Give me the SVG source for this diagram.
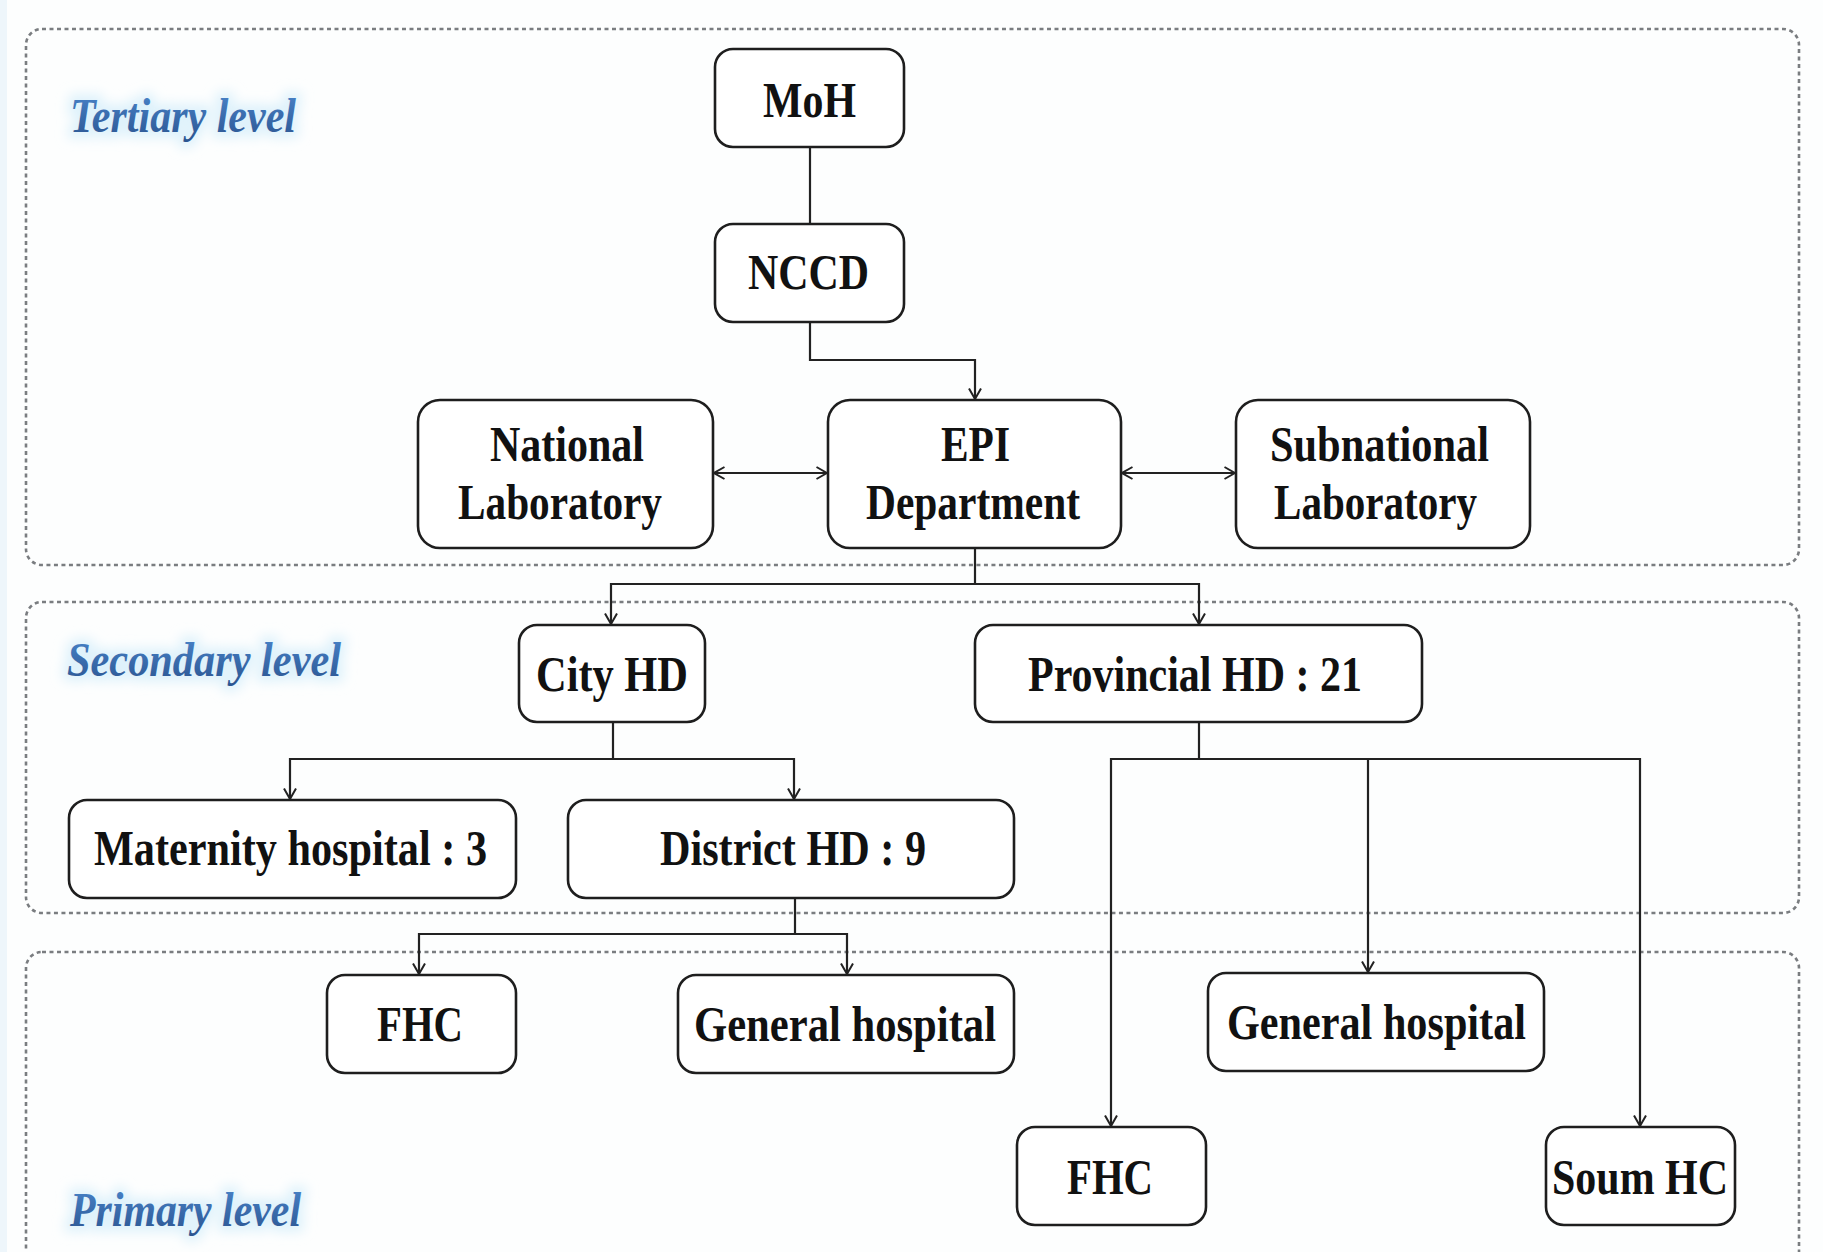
<svg xmlns="http://www.w3.org/2000/svg" width="1823" height="1252" viewBox="0 0 1823 1252">
  <defs>
    <style>
      .lvl { fill: none; stroke: #7a7d80; stroke-width: 2.6; stroke-dasharray: 4 3.5; }
      .node rect { fill: #ffffff; stroke: #1e1e1e; stroke-width: 2.6; }
      .node text { font-family: "Liberation Serif", "Times New Roman", serif; font-weight: bold; font-size: 50px; fill: #111; text-anchor: middle; }
      .conn { fill: none; stroke: #222; stroke-width: 2.2; }
      .lbl { font-family: "Liberation Serif", "Times New Roman", serif; font-style: italic; font-weight: bold; font-size: 48px; fill: url(#blueGrad); }
      .glow { font-family: "Liberation Serif", "Times New Roman", serif; font-style: italic; font-weight: bold; font-size: 48px; fill: #cfeaf8; stroke: #dff2fb; stroke-width: 12; filter: url(#blur); }
    </style>
    <linearGradient id="blueGrad" x1="0" y1="0" x2="0" y2="1">
      <stop offset="0" stop-color="#4a86cc"/>
      <stop offset="1" stop-color="#2b5490"/>
    </linearGradient>
    <filter id="blur" x="-20%" y="-50%" width="140%" height="200%">
      <feGaussianBlur stdDeviation="6"/>
    </filter>
    <marker id="arr" viewBox="0 0 12 14" refX="11.5" refY="7" markerWidth="12" markerHeight="14" markerUnits="userSpaceOnUse" orient="auto-start-reverse">
      <path d="M1,1 L11.5,7 L1,13" fill="none" stroke="#222" stroke-width="2"/>
    </marker>
  </defs>

  <rect x="0" y="0" width="1823" height="1252" fill="#fdfefe"/>
  <rect x="0" y="0" width="7" height="1252" fill="#eef6fb"/>

  <g id="levels">
    <rect class="lvl" x="26" y="29" width="1773" height="536" rx="16"/>
    <rect class="lvl" x="26" y="602" width="1773" height="311" rx="16"/>
    <rect class="lvl" x="26" y="952" width="1773" height="340" rx="16"/>
  </g>

  <g id="level-labels">
    <text class="glow" x="70" y="132" textLength="226" lengthAdjust="spacingAndGlyphs">Tertiary level</text>
    <text class="lbl" x="70" y="132" textLength="226" lengthAdjust="spacingAndGlyphs">Tertiary level</text>
    <text class="glow" x="67" y="676" textLength="274" lengthAdjust="spacingAndGlyphs">Secondary level</text>
    <text class="lbl" x="67" y="676" textLength="274" lengthAdjust="spacingAndGlyphs">Secondary level</text>
    <text class="glow" x="70" y="1226" textLength="231" lengthAdjust="spacingAndGlyphs">Primary level</text>
    <text class="lbl" x="70" y="1226" textLength="231" lengthAdjust="spacingAndGlyphs">Primary level</text>
  </g>

  <g id="connectors">
    <path class="conn" d="M810,147 V224"/>
    <path class="conn" d="M810,322 V360 H975 V399" marker-end="url(#arr)"/>
    <path class="conn" d="M714,473 H827" marker-start="url(#arr)" marker-end="url(#arr)"/>
    <path class="conn" d="M1122,473 H1235" marker-start="url(#arr)" marker-end="url(#arr)"/>
    <path class="conn" d="M975,548 V584 H611 V624" marker-end="url(#arr)"/>
    <path class="conn" d="M975,584 H1199 V624" marker-end="url(#arr)"/>
    <path class="conn" d="M613,722 V759 H290 V799" marker-end="url(#arr)"/>
    <path class="conn" d="M613,759 H794 V799" marker-end="url(#arr)"/>
    <path class="conn" d="M795,898 V934 H419 V974" marker-end="url(#arr)"/>
    <path class="conn" d="M795,934 H847 V974" marker-end="url(#arr)"/>
    <path class="conn" d="M1199,722 V759 H1111 V1126" marker-end="url(#arr)"/>
    <path class="conn" d="M1199,759 H1640 V1126" marker-end="url(#arr)"/>
    <path class="conn" d="M1368,759 V972" marker-end="url(#arr)"/>
  </g>

  <g id="moh" class="node">
    <rect x="715" y="49" width="189" height="98" rx="18"/>
    <text x="809.5" y="117" textLength="93" lengthAdjust="spacingAndGlyphs">MoH</text>
  </g>
  <g id="nccd" class="node">
    <rect x="715" y="224" width="189" height="98" rx="18"/>
    <text x="808.5" y="289" textLength="121" lengthAdjust="spacingAndGlyphs">NCCD</text>
  </g>
  <g id="national-lab" class="node">
    <rect x="418" y="400" width="295" height="148" rx="22"/>
    <text x="567" y="461" textLength="154" lengthAdjust="spacingAndGlyphs">National</text>
    <text x="560" y="519" textLength="204" lengthAdjust="spacingAndGlyphs">Laboratory</text>
  </g>
  <g id="epi" class="node">
    <rect x="828" y="400" width="293" height="148" rx="22"/>
    <text x="975.5" y="461" textLength="69" lengthAdjust="spacingAndGlyphs">EPI</text>
    <text x="973" y="519" textLength="214" lengthAdjust="spacingAndGlyphs">Department</text>
  </g>
  <g id="subnational-lab" class="node">
    <rect x="1236" y="400" width="294" height="148" rx="22"/>
    <text x="1379.5" y="461" textLength="219" lengthAdjust="spacingAndGlyphs">Subnational</text>
    <text x="1375.5" y="519" textLength="203" lengthAdjust="spacingAndGlyphs">Laboratory</text>
  </g>
  <g id="city-hd" class="node">
    <rect x="519" y="625" width="186" height="97" rx="18"/>
    <text x="612" y="691" textLength="152" lengthAdjust="spacingAndGlyphs">City HD</text>
  </g>
  <g id="provincial-hd" class="node">
    <rect x="975" y="625" width="447" height="97" rx="18"/>
    <text x="1195" y="691" textLength="334" lengthAdjust="spacingAndGlyphs">Provincial HD : 21</text>
  </g>
  <g id="maternity" class="node">
    <rect x="69" y="800" width="447" height="98" rx="18"/>
    <text x="290.5" y="865" textLength="393" lengthAdjust="spacingAndGlyphs">Maternity hospital : 3</text>
  </g>
  <g id="district-hd" class="node">
    <rect x="568" y="800" width="446" height="98" rx="18"/>
    <text x="793" y="865" textLength="266" lengthAdjust="spacingAndGlyphs">District HD : 9</text>
  </g>
  <g id="fhc-left" class="node">
    <rect x="327" y="975" width="189" height="98" rx="18"/>
    <text x="420" y="1041" textLength="86" lengthAdjust="spacingAndGlyphs">FHC</text>
  </g>
  <g id="general-hospital-left" class="node">
    <rect x="678" y="975" width="336" height="98" rx="18"/>
    <text x="845" y="1041" textLength="302" lengthAdjust="spacingAndGlyphs">General hospital</text>
  </g>
  <g id="general-hospital-right" class="node">
    <rect x="1208" y="973" width="336" height="98" rx="18"/>
    <text x="1376.5" y="1039" textLength="299" lengthAdjust="spacingAndGlyphs">General hospital</text>
  </g>
  <g id="fhc-right" class="node">
    <rect x="1017" y="1127" width="189" height="98" rx="18"/>
    <text x="1110" y="1194" textLength="86" lengthAdjust="spacingAndGlyphs">FHC</text>
  </g>
  <g id="soum-hc" class="node">
    <rect x="1546" y="1127" width="189" height="98" rx="18"/>
    <text x="1640" y="1194" textLength="176" lengthAdjust="spacingAndGlyphs">Soum HC</text>
  </g>
</svg>
